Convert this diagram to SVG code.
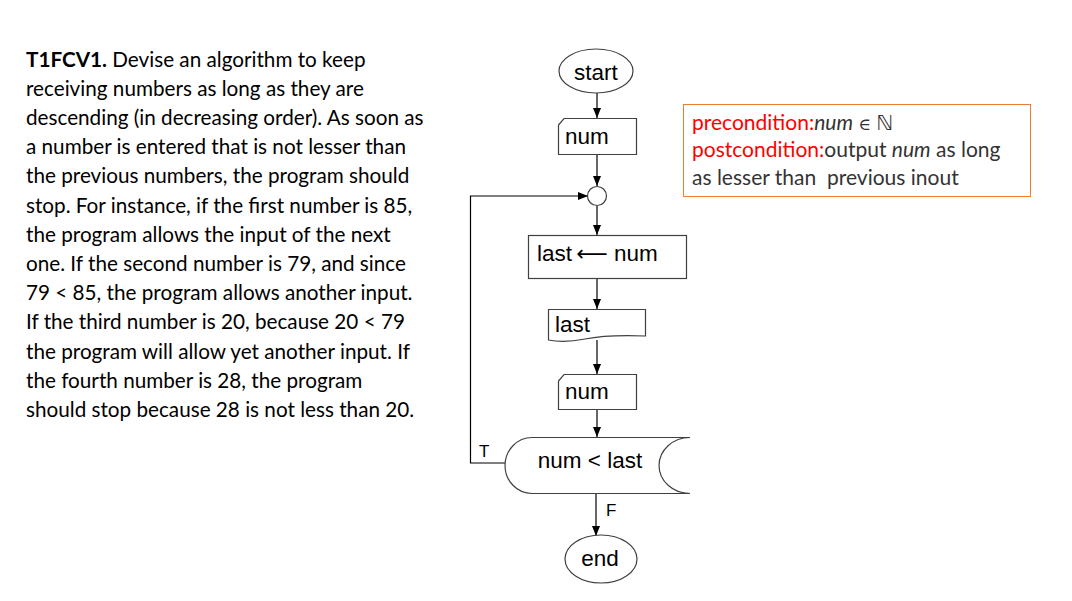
<svg xmlns="http://www.w3.org/2000/svg" width="1072" height="601" viewBox="0 0 1072 601">
<defs>
<marker id="ah" markerWidth="10" markerHeight="8" refX="10" refY="4" orient="auto" markerUnits="userSpaceOnUse">
<path d="M0,0 L10,4 L0,8 Z" fill="#000"/>
</marker>
<style>
.shape{fill:#fff;stroke:#404040;stroke-width:1.2}
.lbl{font-family:"Liberation Sans",Arial,sans-serif;font-size:22.5px;fill:#000}
.con{fill:none;stroke:#000;stroke-width:1.2}
.body{font-family:Lato,"Open Sans",sans-serif;font-size:20.7px;fill:#000}
.cond{font-family:Lato,"Open Sans",sans-serif;font-size:21px;fill:#333}
.red{fill:#FF0000}
.sm{font-family:"Liberation Sans",Arial,sans-serif;font-size:17px;fill:#000}
</style>
</defs>
<rect width="1072" height="601" fill="#fff"/>
<g id="problem" class="body">
<text x="26" y="67"><tspan font-weight="bold">T1FCV1.</tspan> Devise an algorithm to keep</text>
<text x="26" y="96">receiving numbers as long as they are</text>
<text x="26" y="125">descending (in decreasing order). As soon as</text>
<text x="26" y="154">a number is entered that is not lesser than</text>
<text x="26" y="183">the previous numbers, the program should</text>
<text x="26" y="213">stop. For instance, if the first number is 85,</text>
<text x="26" y="242">the program allows the input of the next</text>
<text x="26" y="271">one. If the second number is 79, and since</text>
<text x="26" y="300">79 &lt; 85, the program allows another input.</text>
<text x="26" y="329">If the third number is 20, because 20 &lt; 79</text>
<text x="26" y="359">the program will allow yet another input. If</text>
<text x="26" y="388">the fourth number is 28, the program</text>
<text x="26" y="417">should stop because 28 is not less than 20.</text>
</g>
<g id="conditions">
<rect x="683.5" y="104.5" width="347" height="92" fill="#fff" stroke="#ED7D31" stroke-width="1"/>
<text class="cond" x="692" y="130"><tspan class="red">precondition:</tspan><tspan font-style="italic">num</tspan> <tspan font-family="DejaVu Serif" font-size="17">∈</tspan> <tspan font-family="DejaVu Sans">ℕ</tspan></text>
<text class="cond" x="692" y="157"><tspan class="red">postcondition:</tspan>output <tspan font-style="italic">num</tspan> as long</text>
<text class="cond" x="692" y="185">as lesser than&#160; previous inout</text>
</g>
<g id="connectors">
<line class="con" x1="597" y1="93" x2="597" y2="118" marker-end="url(#ah)"/>
<line class="con" x1="597" y1="155" x2="597" y2="186" marker-end="url(#ah)"/>
<line class="con" x1="597" y1="206" x2="597" y2="235" marker-end="url(#ah)"/>
<line class="con" x1="597" y1="279" x2="597" y2="309" marker-end="url(#ah)"/>
<line class="con" x1="597" y1="340" x2="597" y2="374" marker-end="url(#ah)"/>
<line class="con" x1="597" y1="410" x2="597" y2="437" marker-end="url(#ah)"/>
<line class="con" x1="596" y1="494" x2="596" y2="536" marker-end="url(#ah)"/>
<polyline class="con" points="505,463 470.5,463 470.5,196 588,196" marker-end="url(#ah)"/>
<text class="sm" x="479" y="457">T</text>
<text class="sm" x="606" y="516">F</text>
</g>
<g id="start">
<ellipse class="shape" cx="596" cy="71" rx="37" ry="22"/>
<text class="lbl" x="596" y="80" text-anchor="middle" font-size="25">start</text>
</g>
<g id="input1">
<path class="shape" d="M558.5,125 L564,118.5 L636.5,118.5 L636.5,154.5 L558.5,154.5 Z"/>
<text class="lbl" x="565" y="144">num</text>
</g>
<g id="join">
<circle class="shape" cx="597" cy="196" r="9.5"/>
</g>
<g id="assign">
<rect class="shape" x="528.5" y="235.5" width="158" height="43"/>
<text class="lbl" x="537" y="261">last <tspan font-family="DejaVu Sans" font-size="22" dx="-2">⟵</tspan> num</text>
</g>
<g id="output">
<path class="shape" d="M548.5,309.5 L645.5,309.5 L645.5,336 C620,335 600,336 585,339 C570,342 558,342 548.5,340 Z"/>
<text class="lbl" x="555" y="332">last</text>
</g>
<g id="input2">
<path class="shape" d="M558.5,381 L564,374.5 L636.5,374.5 L636.5,409.5 L558.5,409.5 Z"/>
<text class="lbl" x="565" y="399">num</text>
</g>
<g id="decision">
<path class="shape" d="M532,437.5 L690,437.5 A31,28 0 0 0 690,493.5 L532,493.5 A27,28 0 0 1 532,437.5 Z"/>
<text class="lbl" x="590" y="468" text-anchor="middle">num &lt; last</text>
</g>
<g id="end">
<ellipse class="shape" cx="601" cy="559" rx="36" ry="24"/>
<text class="lbl" x="600" y="566" text-anchor="middle" font-size="23">end</text>
</g>
</svg>
